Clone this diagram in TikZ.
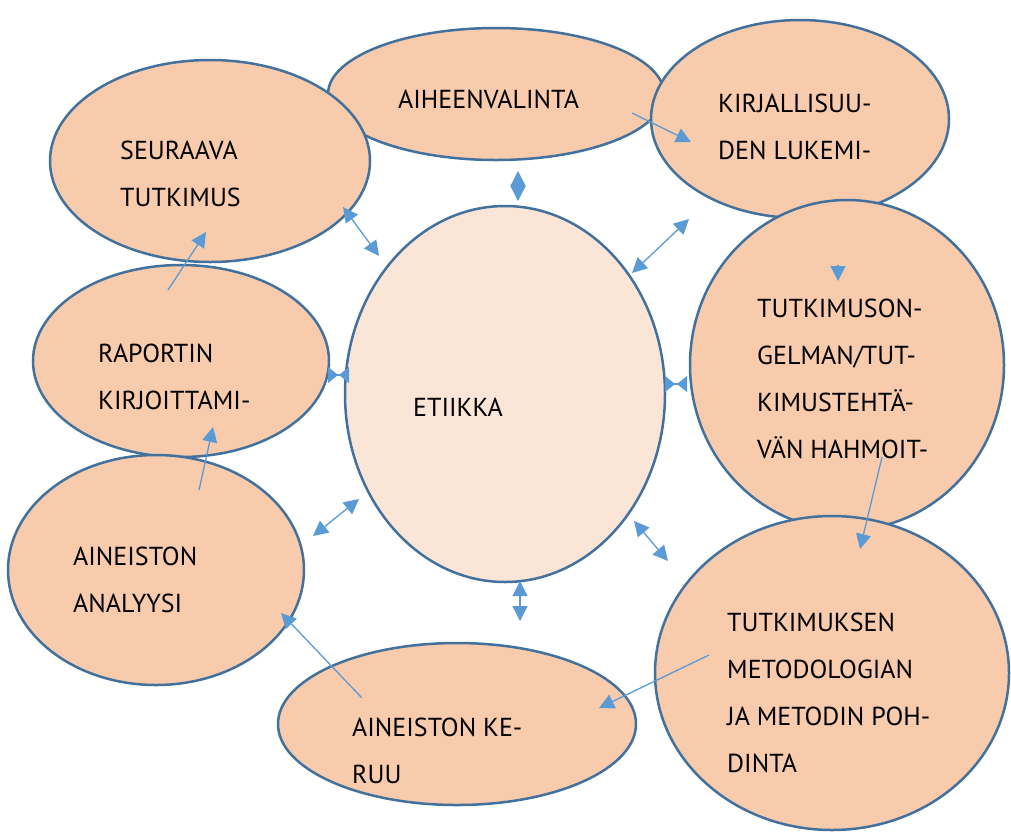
\documentclass[tikz,border=0pt]{standalone}
\usepackage{fontspec}
\setmainfont{PT Sans}
\usetikzlibrary{arrows.meta,shapes.geometric}
\definecolor{peach}{HTML}{F8CBAD}
\definecolor{lightpeach}{HTML}{FBE5D6}
\definecolor{rim}{HTML}{41719C}
\definecolor{arr}{HTML}{5B9BD5}
\begin{document}
\begin{tikzpicture}[x=1pt,y=-1pt,
  bubble/.style={draw=rim,line width=2.5pt,fill=peach},
  lbl/.style={anchor=north west,align=left,inner sep=0pt,font=\fontsize{26}{47}\selectfont},
  link/.style={draw=arr,line width=1.3pt,-{Triangle[length=15pt,width=15pt]}},
  dlink/.style={draw=arr,line width=1.3pt,{Triangle[length=15pt,width=15pt]}-{Triangle[length=15pt,width=15pt]}},
  bowtie/.style={draw=arr,line width=1.3pt,{Triangle[length=10pt,width=16pt,reversed]}-{Triangle[length=10pt,width=16pt,reversed]}}]
\useasboundingbox (0,0) rectangle (1011,831);
% bubbles
\draw[bubble] (496,94) ellipse [x radius=168,y radius=66];
\draw[bubble] (800,119) ellipse [x radius=149,y radius=99];
\draw[bubble] (210,161) ellipse [x radius=160,y radius=101];
\draw[bubble] (181,361) ellipse [x radius=148,y radius=96];
\draw[bubble] (156,570) ellipse [x radius=148,y radius=115];
\draw[bubble] (847,365) ellipse [x radius=157,y radius=165];
\draw[bubble] (832,673) ellipse [x radius=177,y radius=157];
\draw[bubble] (457,724) ellipse [x radius=179,y radius=81];
\draw[bubble,fill=lightpeach] (505,394) ellipse [x radius=160,y radius=188];
% texts
\node[lbl] (aihe) at (398,90) {AIHEENVALINTA};
\node[lbl] (kirj) at (718,94) {KIRJALLISUU-\\DEN LUKEMI-};
\node[lbl] (seur) at (120,141) {SEURAAVA\\TUTKIMUS};
\node[lbl] (etii) at (413,398) {ETIIKKA};
\node[lbl] (ong) at (757,299) {TUTKIMUSON-\\GELMAN/TUT-\\KIMUSTEHTÄ-\\VÄN HAHMOIT-};
\node[lbl] (rap) at (98,344) {RAPORTIN\\KIRJOITTAMI-};
\node[lbl] (anal) at (73,547) {AINEISTON\\ANALYYSI};
\node[lbl] (ker) at (352,718) {AINEISTON KE-\\RUU};
\node[lbl] (met) at (727,613) {TUTKIMUKSEN\\METODOLOGIAN\\JA METODIN POH-\\DINTA};
% connector end points
\coordinate (e1a) at (518,171); \coordinate (e1b) at (518,201);
\coordinate (e2a) at (343,207); \coordinate (e2b) at (379,256);
\coordinate (e3a) at (689,219); \coordinate (e3b) at (632,273);
\coordinate (e4a) at (328,375); \coordinate (e4b) at (349,375);
\coordinate (e5a) at (665,384); \coordinate (e5b) at (687,384);
\coordinate (e6a) at (313,536); \coordinate (e6b) at (359,499);
\coordinate (e7a) at (634,521); \coordinate (e7b) at (668,561);
\coordinate (e8a) at (520,581); \coordinate (e8b) at (520,621);
\coordinate (s1a) at (632,113); \coordinate (s1b) at (691,142);
\coordinate (s2a) at (838,265); \coordinate (s2b) at (838,281);
\coordinate (s3a) at (882,457); \coordinate (s3b) at (860,549);
\coordinate (s4a) at (709,655); \coordinate (s4b) at (599,708);
\coordinate (s5a) at (362,698); \coordinate (s5b) at (281,613);
\coordinate (s6a) at (199,490); \coordinate (s6b) at (213,427);
\coordinate (s7a) at (168,290); \coordinate (s7b) at (206,232);
% double arrows around ETIIKKA
\draw[dlink] (e1a) -- (e1b);
\draw[dlink] (e2a) -- (e2b);
\draw[dlink] (e3a) -- (e3b);
\draw[bowtie] (e4a) -- (e4b);
\draw[bowtie] (e5a) -- (e5b);
\draw[dlink] (e6a) -- (e6b);
\draw[dlink] (e7a) -- (e7b);
\draw[dlink] (e8a) -- (e8b);
% cycle arrows
\draw[link] (s1a) -- (s1b);
\draw[link] (s2a) -- (s2b);
\draw[link] (s3a) -- (s3b);
\draw[link] (s4a) -- (s4b);
\draw[link] (s5a) -- (s5b);
\draw[link] (s6a) -- (s6b);
\draw[link] (s7a) -- (s7b);
\end{tikzpicture}
\end{document}
